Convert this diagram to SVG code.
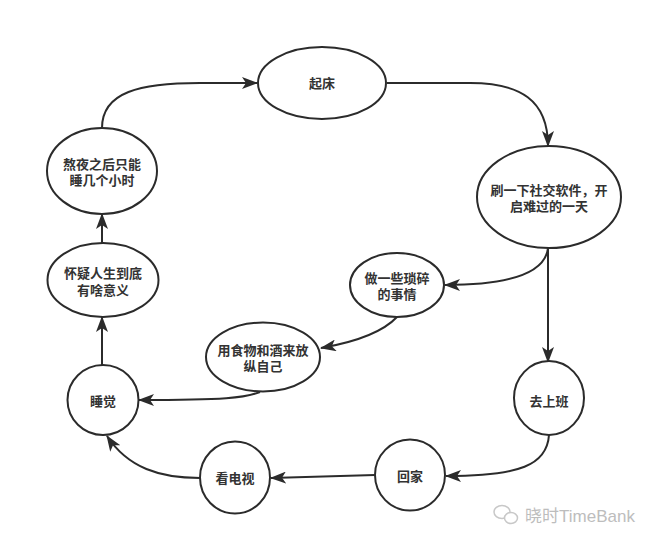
<svg xmlns="http://www.w3.org/2000/svg" width="653" height="545" viewBox="0 0 653 545">
<style>
.node ellipse{fill:#fff;stroke:#2b2b2b;stroke-width:2}
.node text{font-family:"Noto Sans CJK SC","Noto Sans",sans-serif;font-size:13px;font-weight:bold;fill:#333;text-anchor:middle}
.edge{fill:none;stroke:#2b2b2b;stroke-width:2;marker-end:url(#arr)}
.wm{font-family:"Liberation Sans","Noto Sans CJK SC",sans-serif;font-size:17px;fill:#bdbdbd}
</style>
<defs>
<marker id="arr" viewBox="0 0 16 12" refX="15" refY="6" markerWidth="16" markerHeight="12" markerUnits="userSpaceOnUse" orient="auto">
<path d="M0,0 L16,6 L0,12 L4,6 Z" fill="#2b2b2b"/>
</marker>
</defs>
<rect width="653" height="545" fill="#fff"/>
<g id="connectors">
<path class="edge" d="M102,128 C102,92 140,83 200,83 L257,83"/>
<path class="edge" d="M387,83 L470,83 C520,83 548,100 548,146"/>
<path class="edge" d="M548,248 C545,275 505,285 445,285"/>
<path class="edge" d="M548,248 L548,362"/>
<path class="edge" d="M397,317 C380,335 350,343 321,348"/>
<path class="edge" d="M260,392 C245,398 225,400 139,400"/>
<path class="edge" d="M549,435 C547,465 520,476 446,476"/>
<path class="edge" d="M375,475 L271,478"/>
<path class="edge" d="M200,478 C160,478 128,468 107,436"/>
<path class="edge" d="M102,365 L102,317"/>
<path class="edge" d="M102,243 L102,214"/>
</g>
<g id="n-qichuang" class="node"><ellipse cx="322" cy="83" rx="64" ry="36"/><text x="322" y="88">起床</text></g>
<g id="n-shua" class="node"><ellipse cx="549" cy="197" rx="72" ry="51"/><text x="549" y="195">刷一下社交软件，开</text><text x="549" y="211">启难过的一天</text></g>
<g id="n-zuo" class="node"><ellipse cx="397" cy="285" rx="47" ry="32"/><text x="397" y="283">做一些琐碎</text><text x="397" y="299">的事情</text></g>
<g id="n-shangban" class="node"><ellipse cx="549" cy="398" rx="35" ry="37"/><text x="549" y="406">去上班</text></g>
<g id="n-huijia" class="node"><ellipse cx="410" cy="475" rx="35" ry="35.5"/><text x="410" y="481">回家</text></g>
<g id="n-dianshi" class="node"><ellipse cx="235" cy="477.5" rx="35" ry="36"/><text x="235" y="483">看电视</text></g>
<g id="n-shuijiao" class="node"><ellipse cx="103" cy="400" rx="35.5" ry="35"/><text x="103" y="406">睡觉</text></g>
<g id="n-shiwu" class="node"><ellipse cx="263" cy="357" rx="57" ry="34.5"/><text x="263" y="355">用食物和酒来放</text><text x="263" y="371">纵自己</text></g>
<g id="n-huaiyi" class="node"><ellipse cx="103" cy="280" rx="55.5" ry="37"/><text x="103" y="278">怀疑人生到底</text><text x="103" y="295">有啥意义</text></g>
<g id="n-aoye" class="node"><ellipse cx="102" cy="171" rx="55" ry="43"/><text x="102" y="169">熬夜之后只能</text><text x="102" y="185">睡几个小时</text></g>
<g id="watermark">
<ellipse cx="502" cy="512" rx="8" ry="6.5" fill="none" stroke="#c8c8c8" stroke-width="1.5"/>
<ellipse cx="511" cy="518" rx="6.5" ry="5.5" fill="#fff" stroke="#c8c8c8" stroke-width="1.5"/>
<text class="wm" x="525" y="522">晓时TimeBank</text>
</g>
</svg>
